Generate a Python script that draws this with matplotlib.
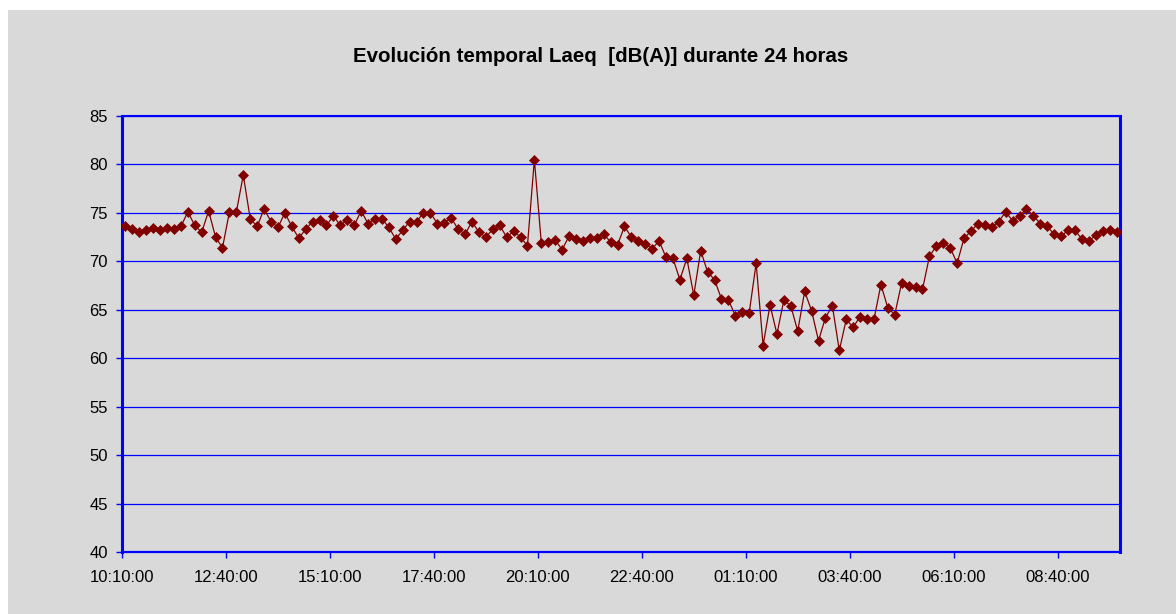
import matplotlib
matplotlib.use("Agg")
import matplotlib.pyplot as plt
from matplotlib.patches import Rectangle
import numpy as np

plt.rcParams['font.family'] = ['Liberation Sans', 'DejaVu Sans']

# Laeq every 10 minutes, starting 10:10:00
laeq = [
    73.6, 73.3, 73.0, 73.2, 73.4, 73.2, 73.4, 73.3, 73.6, 75.1,
    73.7, 73.0, 75.2, 72.5, 71.4, 75.1, 75.1, 78.9, 74.4, 73.6,
    75.4, 74.1, 73.5, 75.0, 73.6, 72.4, 73.3, 74.1, 74.3, 73.7,
    74.7, 73.7, 74.3, 73.7, 75.2, 73.9, 74.4,
    74.4, 73.5, 72.3, 73.2, 74.1, 74.1, 75.0, 75.0, 73.9, 74.0,
    74.5, 73.3, 72.8, 74.1, 73.0, 72.5, 73.3, 73.7, 72.5, 73.1,
    72.5, 71.6, 80.5, 71.9, 72.0, 72.2, 71.2, 72.6, 72.3, 72.1,
    72.4, 72.4, 72.8, 72.0, 71.7, 73.6,
    72.5, 72.1, 71.8, 71.3, 72.1, 70.4, 70.3, 68.1, 70.3, 66.5,
    71.1, 68.9, 68.1, 66.1, 66.0, 64.4, 64.8, 64.7, 69.8, 61.3,
    65.5, 62.5, 66.0, 65.4, 62.8, 66.9, 64.9, 61.8, 64.2, 65.4,
    60.8, 64.0, 63.2, 64.3, 64.0, 64.0,
    67.6, 65.2, 64.5, 67.8, 67.5, 67.4, 67.1, 70.5, 71.6, 71.9,
    71.4, 69.8, 72.4, 73.1, 73.9, 73.7, 73.5, 74.1, 75.1, 74.2,
    74.7, 75.4, 74.7, 73.9, 73.6, 72.8, 72.6, 73.2, 73.2, 72.3,
    72.1, 72.7, 73.1, 73.2, 73.0,
]
tick_labels = ["10:10:00", "12:40:00", "15:10:00", "17:40:00", "20:10:00",
               "22:40:00", "01:10:00", "03:40:00", "06:10:00", "08:40:00"]
label_step = 15  # one label every 15 readings (2.5 h)

bg = '#d9d9d9'
blue = '#0000ff'
red = '#800000'

fig = plt.figure(figsize=(11.76, 6.14), dpi=100)
fig.patch.set_facecolor('white')
# grey chart area (small white margin top/left like the original)
fig.patches.append(Rectangle((8 / 1176, 0), 1 - 8 / 1176, 1 - 10 / 614,
                             transform=fig.transFigure, facecolor=bg,
                             edgecolor='none', zorder=-10))

ax = fig.add_axes([122 / 1176, 62 / 614, 998 / 1176, 436 / 614])
ax.set_facecolor(bg)

x = np.arange(len(laeq))
ax.plot(x, laeq, color=red, linewidth=0.9, marker='D', markersize=5.6,
        markerfacecolor=red, markeredgecolor=red, markeredgewidth=0.5,
        zorder=3)

ax.set_xlim(-0.5, len(laeq) - 0.5)
ax.set_ylim(40, 85)
ax.set_yticks(np.arange(40, 86, 5))
ax.set_xticks([-0.5 + label_step * i for i in range(len(tick_labels))])
ax.set_xticklabels(tick_labels)

ax.yaxis.grid(True, color=blue, linewidth=0.9)
ax.set_axisbelow(True)

for side, lw in [('left', 2.2), ('right', 2.2), ('top', 1.5), ('bottom', 1.6)]:
    ax.spines[side].set_color(blue)
    ax.spines[side].set_linewidth(lw)

ax.tick_params(axis='both', colors=blue, labelcolor='black', labelsize=12,
               length=4, width=1, direction='out')
ax.tick_params(axis='y', pad=6)
ax.tick_params(axis='x', pad=9)

fig.text(601 / 1176, 1 - 56 / 614, "Evolución temporal Laeq  [dB(A)] durante 24 horas",
         ha='center', va='center', fontsize=14.8, fontweight='bold')

fig.savefig('out.png', dpi=100, facecolor=fig.get_facecolor())
